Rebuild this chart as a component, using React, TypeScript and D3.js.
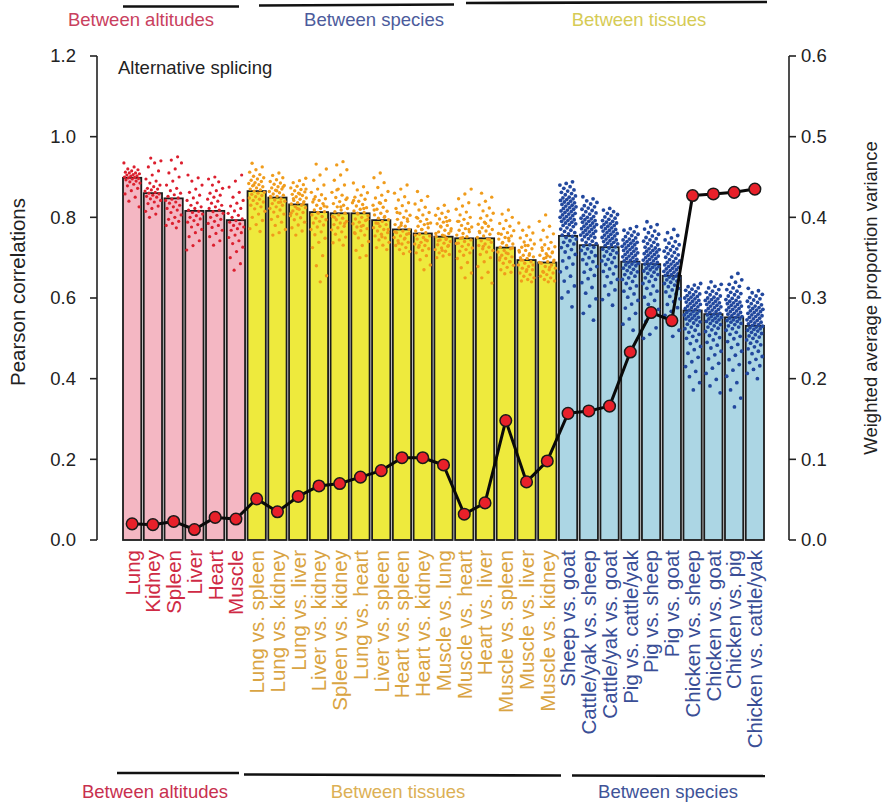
import React from "react";
import * as d3 from "d3";

// ---------------- DATA ----------------
const altCats = ["Lung", "Kidney", "Spleen", "Liver", "Heart", "Muscle"];
const tisCats = [
  "Lung vs. spleen", "Lung vs. kidney", "Lung vs. liver", "Liver vs. kidney", "Spleen vs. kidney",
  "Lung vs. heart", "Liver vs. spleen", "Heart vs. spleen", "Heart vs. kidney", "Muscle vs. lung",
  "Muscle vs. heart", "Heart vs. liver", "Muscle vs. spleen", "Muscle vs. liver", "Muscle vs. kidney",
];
const speCats = [
  "Sheep vs. goat", "Cattle/yak vs. sheep", "Cattle/yak vs. goat", "Pig vs. cattle/yak", "Pig vs. sheep",
  "Pig vs. goat", "Chicken vs. sheep", "Chicken vs. goat", "Chicken vs. pig", "Chicken vs. cattle/yak",
];

// Bar heights: Pearson correlations (left axis)
const altBars = [0.898, 0.86, 0.847, 0.816, 0.816, 0.793];
const tisBars = [0.865, 0.849, 0.832, 0.813, 0.81, 0.81, 0.793, 0.77, 0.76, 0.752, 0.748, 0.748, 0.725, 0.694, 0.688];
const speBars = [0.754, 0.731, 0.726, 0.69, 0.684, 0.655, 0.569, 0.56, 0.552, 0.531];

// Line: weighted average proportion variance (right axis)
const altVar = [0.02, 0.019, 0.023, 0.013, 0.028, 0.026];
const tisVar = [0.051, 0.035, 0.054, 0.067, 0.07, 0.078, 0.086, 0.102, 0.102, 0.093, 0.032, 0.046, 0.148, 0.072, 0.098];
const speVar = [0.157, 0.16, 0.166, 0.233, 0.282, 0.272, 0.427, 0.429, 0.431, 0.435];

// Individual correlations (x1000)
const altPoints = [
  "935 925 920 918 915 912 910 910 908 906 905 903 902 900 899 898 896 895 893 890 888 885 882 878 872 866 858 850 840 826",
  "947 940 935 925 915 905 895 890 885 880 876 872 870 868 865 862 860 858 855 852 850 846 842 838 834 828 822 815 808 800",
  "950 942 935 920 910 900 890 880 872 866 860 856 852 848 845 842 838 835 830 826 822 818 812 806 800 795 790 785 780 774",
  "905 898 890 880 870 862 855 848 842 836 830 826 822 818 815 812 808 804 800 796 792 788 782 776 770 762 752 742 730 719",
  "900 895 888 880 872 866 860 855 850 845 840 835 830 826 822 818 814 810 805 800 795 790 785 780 775 768 760 752 742 731",
  "905 890 875 862 850 842 835 828 822 816 810 805 800 796 792 788 784 780 776 772 768 762 756 750 742 735 726 715 700 685 669",
];
const tisPoints = [
  "934 925 918 912 906 902 898 895 892 889 886 884 881 878 876 873 870 868 865 862 860 857 854 851 848 845 842 838 834 830 826 821 815 808 800 792 782 772 765 880",
  "910 904 898 893 889 885 882 879 876 873 870 867 864 861 858 855 852 849 846 843 840 837 834 830 826 822 818 813 808 802 795 788 780 770 762 756 875 866 852 838",
  "897 891 886 881 877 873 869 866 863 860 857 854 851 848 845 842 839 836 833 830 827 824 820 816 812 808 804 799 794 788 781 774 766 756 870 858 846 835 822 810",
  "932 920 905 892 880 870 862 856 851 846 842 838 834 830 826 822 818 814 810 806 802 798 794 790 786 781 776 770 764 757 748 738 725 705 680 655 640 845 828 812",
  "938 930 918 905 892 880 870 862 855 849 844 839 834 830 826 822 818 814 810 806 802 798 794 790 786 782 778 774 769 764 758 751 744 737 731 868 848 826 800 785",
  "885 876 868 861 855 850 845 840 836 832 828 824 820 816 812 808 804 800 796 792 788 784 780 776 772 767 762 756 749 740 730 718 705 700 842 822 810 795 778 760",
  "910 898 886 874 864 855 848 842 836 830 825 820 815 810 806 802 798 794 790 786 782 778 774 770 766 762 758 754 749 744 738 731 725 720 835 818 800 785 770 752",
  "880 870 860 851 843 836 829 822 816 810 805 800 795 790 786 782 778 774 770 766 762 758 754 750 746 742 738 734 730 725 720 715 710 812 796 780 764 748 736 760",
  "864 852 842 833 825 818 812 806 800 795 790 786 782 778 774 770 766 762 758 754 750 746 742 738 734 730 726 722 718 712 705 695 682 670 798 784 770 756 744 730",
  "830 822 815 810 805 800 796 792 788 784 780 776 772 768 764 760 756 752 748 744 740 736 732 728 724 720 716 712 708 704 700 790 778 766 754 742 730 718 760 745",
  "870 858 846 836 828 820 813 806 800 795 790 785 780 776 772 768 764 760 756 752 748 744 740 736 732 728 724 720 716 712 706 698 688 675 662 650 790 770 750 735",
  "860 850 840 831 823 816 810 804 798 793 788 783 778 774 770 766 762 758 754 750 746 742 738 734 730 726 722 718 714 708 700 690 678 664 650 637 785 765 745 728",
  "818 808 800 792 785 778 772 767 762 758 754 750 746 742 738 734 730 726 722 718 714 710 706 702 698 694 690 686 681 676 670 664 660 760 748 736 724 712 700 690",
  "786 776 768 761 755 749 744 739 734 730 726 722 718 714 710 706 702 698 694 690 686 682 678 674 670 666 662 658 654 650 646 642 640 730 718 706 694 682 670 700",
  "806 790 778 768 759 751 744 738 732 727 722 718 714 710 706 702 698 694 690 686 682 678 674 670 666 662 658 654 650 646 642 640 725 712 700 688 676 664 690 705",
];
const spePoints = [
  "888 884 880 876 872 868 865 862 859 856 853 850 848 846 844 842 840 838 836 834 832 830 828 826 824 822 820 818 816 814 812 810 808 806 804 802 800 798 796 794 792 790 788 786 784 782 780 777 774 771 768 765 762 759 756 753 750 746 742 738 734 730 725 720 714 708 700 692 684 675 665 654 642 630 615 600 578",
  "851 846 841 837 833 829 826 823 820 817 814 811 808 805 802 800 798 796 794 792 790 788 786 784 782 780 778 776 774 772 770 768 766 764 762 760 758 756 754 752 750 747 744 741 738 735 732 729 726 722 718 714 710 705 700 695 690 684 678 671 664 656 648 638 626 612 598 580 562 545",
  "822 818 814 810 807 804 801 798 795 792 790 788 786 784 782 780 778 776 774 772 770 768 766 764 762 760 758 756 754 752 750 748 746 744 742 740 738 736 734 732 730 727 724 721 718 715 712 708 704 700 696 692 688 683 678 672 666 660 653 646 638 630 620 608 596 582",
  "777 772 768 764 761 758 755 752 749 746 744 742 740 738 736 734 732 730 728 726 724 722 720 718 716 714 712 710 708 706 704 702 700 698 696 694 692 690 688 686 684 682 680 677 674 671 668 665 662 658 654 650 646 641 636 630 624 617 610 602 594 585 575 562 548 535 520",
  "789 782 776 771 766 762 758 754 750 747 744 741 738 735 732 729 726 724 722 720 718 716 714 712 710 708 706 704 702 700 698 696 694 692 690 688 686 684 682 680 678 676 674 672 670 667 664 661 658 654 650 646 641 636 630 624 617 610 602 594 584 572 558 542 526 510 500",
  "770 762 755 749 744 740 736 732 728 725 722 719 716 713 710 707 704 701 698 695 692 690 688 686 684 682 680 678 676 674 672 670 668 666 664 662 660 658 656 654 652 650 648 645 642 639 636 632 628 624 620 615 610 604 598 591 584 576 567 557 546 534 520 505",
  "636 632 628 625 622 619 616 613 610 608 606 604 602 600 598 596 594 592 590 588 586 584 582 580 578 576 574 572 570 568 566 564 562 560 558 556 554 552 550 548 546 544 541 538 535 532 528 524 520 515 510 505 500 494 487 480 472 463 453 442 430 418 405 390 372",
  "640 634 629 625 621 617 614 611 608 605 602 600 598 596 594 592 590 588 586 584 582 580 578 576 574 572 570 568 566 564 562 560 558 556 554 552 550 548 546 544 542 540 537 534 531 528 525 521 517 512 507 502 496 490 483 476 468 459 449 438 426 413 398 382 365",
  "661 652 645 639 634 629 625 621 617 614 611 608 605 602 599 596 594 592 590 588 586 584 582 580 578 576 574 572 570 568 566 564 562 560 558 556 554 552 550 548 546 544 542 540 537 534 531 528 524 520 515 510 505 499 492 485 477 468 458 447 435 421 406 390 372 352 330",
  "624 618 613 609 605 601 598 595 592 589 586 583 580 578 576 574 572 570 568 566 564 562 560 558 556 554 552 550 548 546 544 542 540 538 536 534 532 530 528 526 524 522 520 518 515 512 509 506 503 500 496 492 488 484 479 474 468 462 455 448 440 432 423 413 400",
];

const leftTicks = [0, 0.2, 0.4, 0.6, 0.8, 1.0, 1.2];
const rightTicks = [0, 0.1, 0.2, 0.3, 0.4, 0.5, 0.6];

// ---------------- STYLE ----------------
const FONT = "'Liberation Sans', Arial, Helvetica, sans-serif";
const groups = [
  { cats: altCats, bars: altBars, vars: altVar, pts: altPoints, fill: "#f4b7c3", dot: "#dc1f2e", label: "#cf2a45", r: 1.6 },
  { cats: tisCats, bars: tisBars, vars: tisVar, pts: tisPoints, fill: "#eeea3d", dot: "#f09c1c", label: "#d9a443", r: 1.7 },
  { cats: speCats, bars: speBars, vars: speVar, pts: spePoints, fill: "#acd6e4", dot: "#22489e", label: "#3a4e96", r: 1.9 },
];

const parse = (s: string) => s.trim().split(/\s+/).map((v) => +v / 1000);

export default function App() {
  const W = 883, H = 804;
  const rows: any[] = [];
  groups.forEach((g) =>
    g.cats.forEach((c, i) =>
      rows.push({ cat: c, bar: g.bars[i], v: g.vars[i], pts: parse(g.pts[i]), fill: g.fill, dot: g.dot, label: g.label, r: g.r })
    )
  );

  const x = d3.scaleBand<string>().domain(rows.map((d) => d.cat)).range([123, 764]).paddingInner(0.12).paddingOuter(0);
  const yL = d3.scaleLinear().domain([0, 1.2]).range([540, 56]);
  const yR = d3.scaleLinear().domain([0, 0.6]).range([540, 56]);
  const bw = x.bandwidth();
  const cx = (c: string) => (x(c) as number) + bw / 2;

  const line = d3.line<any>().x((d) => cx(d.cat)).y((d) => yR(d.v));

  return (
    <svg width={W} height={H} style={{ position: "absolute", left: 0, top: 0, background: "#fff" }} fontFamily={FONT}>
      {/* top group brackets */}
      <g stroke="#111" strokeWidth={2.6}>
        <line x1={123} x2={239} y1={6.5} y2={6.5} />
        <line x1={259} x2={454} y1={5.5} y2={4.5} />
        <line x1={466} x2={767} y1={3} y2={2} />
      </g>
      <g fontSize={18.5} textAnchor="middle">
        <text x={141} y={26} fill="#c9405e">Between altitudes</text>
        <text x={374} y={26} fill="#4c5b9c">Between species</text>
        <text x={639} y={26} fill="#d6cb55">Between tissues</text>
      </g>

      {/* bars */}
      {rows.map((d) => (
        <rect key={"b" + d.cat} x={x(d.cat)} y={yL(d.bar)} width={bw} height={yL(0) - yL(d.bar)}
          fill={d.fill} stroke="#1c1c1c" strokeWidth={1.8} />
      ))}

      {/* individual points */}
      {rows.map((d, bi) => (
        <g key={"p" + d.cat} fill={d.dot}>
          {d.pts.map((v: number, i: number) => {
            const f = ((i * 0.6180339 + bi * 0.37) % 1) - 0.5;
            return <circle key={i} cx={cx(d.cat) + f * bw * 0.9} cy={yL(v)} r={d.r} />;
          })}
        </g>
      ))}

      {/* line */}
      <path d={line(rows) as string} fill="none" stroke="#0a0a0a" strokeWidth={3} strokeLinejoin="round" />
      {rows.map((d) => (
        <circle key={"c" + d.cat} cx={cx(d.cat)} cy={yR(d.v)} r={5.8} fill="#e8202a" stroke="#1a1a1a" strokeWidth={1.5} />
      ))}

      {/* axes */}
      <g stroke="#222" strokeWidth={1.6} fill="none">
        <line x1={97} x2={97} y1={yL(1.2)} y2={yL(0)} />
        {leftTicks.map((t) => (
          <line key={t} x1={90} x2={97} y1={yL(t)} y2={yL(t)} />
        ))}
        <line x1={789} x2={789} y1={yR(0.6)} y2={yR(0)} />
        {rightTicks.map((t) => (
          <line key={t} x1={789} x2={796} y1={yR(t)} y2={yR(t)} />
        ))}
      </g>
      <g fontSize={18.5} fill="#222">
        {leftTicks.map((t) => (
          <text key={t} x={76} y={yL(t)} dy="0.35em" textAnchor="end">{d3.format(".1f")(t)}</text>
        ))}
        {rightTicks.map((t) => (
          <text key={t} x={801} y={yR(t)} dy="0.35em">{d3.format(".1f")(t)}</text>
        ))}
        <text transform={`translate(25,292) rotate(-90)`} textAnchor="middle" fontSize={20.5}>Pearson correlations</text>
        <text transform={`translate(877,298) rotate(-90)`} textAnchor="middle">Weighted average proportion variance</text>
        <text x={118} y={74}>Alternative splicing</text>
      </g>

      {/* x labels */}
      <g fontSize={20.5}>
        {rows.map((d) => (
          <text key={"l" + d.cat} transform={`translate(${cx(d.cat)},550) rotate(-90)`} textAnchor="end" dy="0.36em" fill={d.label}>
            {d.cat}
          </text>
        ))}
      </g>

      {/* bottom group brackets */}
      <g stroke="#111" strokeWidth={2.6}>
        <line x1={117} x2={239} y1={773} y2={773} />
        <line x1={244} x2={561} y1={774.5} y2={775.5} />
        <line x1={572} x2={765} y1={775.5} y2={776} />
      </g>
      <g fontSize={18.5} textAnchor="middle">
        <text x={155} y={798} fill="#c8304f">Between altitudes</text>
        <text x={398} y={798} fill="#dcb055">Between tissues</text>
        <text x={668} y={798} fill="#405398">Between species</text>
      </g>
    </svg>
  );
}
